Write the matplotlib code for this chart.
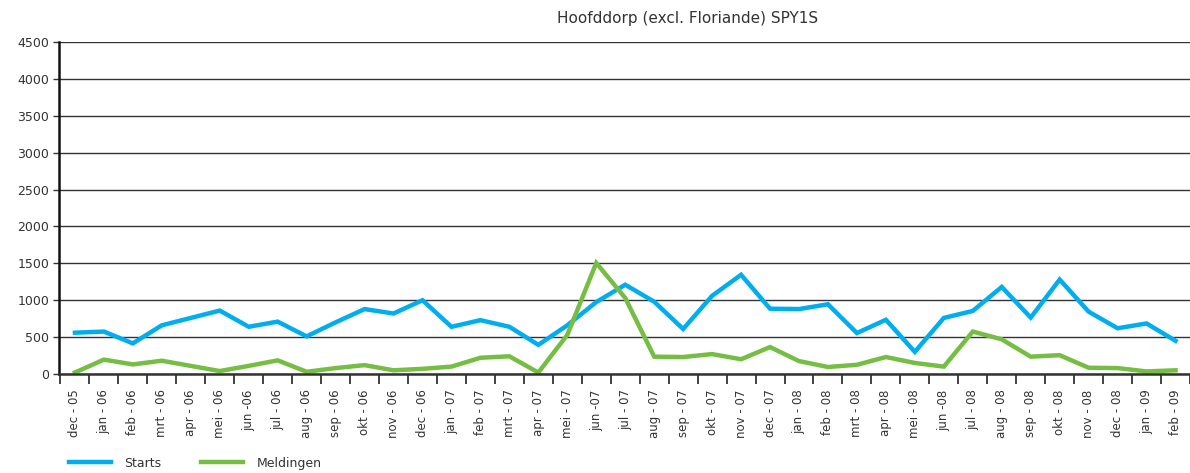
import matplotlib
matplotlib.use("Agg")
import matplotlib.pyplot as plt
from matplotlib.ticker import FixedLocator

# months shown on the x axis
months = ["dec - 05", "jan - 06", "feb - 06", "mrt - 06", "apr - 06", "mei - 06",
          "jun -06", "jul - 06", "aug - 06", "sep - 06", "okt - 06", "nov - 06",
          "dec - 06", "jan - 07", "feb - 07", "mrt - 07", "apr - 07", "mei - 07",
          "jun -07", "jul - 07", "aug - 07", "sep - 07", "okt - 07", "nov - 07",
          "dec - 07", "jan - 08", "feb - 08", "mrt - 08", "apr - 08", "mei - 08",
          "jun -08", "jul - 08", "aug - 08", "sep - 08", "okt - 08", "nov - 08",
          "dec - 08", "jan - 09", "feb - 09"]

starts = [560, 575, 415, 660, 760, 860, 640, 710, 510, 700, 880, 820,
          1000, 640, 730, 640, 395, 660, 975, 1210, 980, 610, 1060, 1345,
          885, 880, 945, 555, 735, 300, 760, 855, 1180, 765, 1280, 845,
          620, 685, 450]

meldingen = [20, 195, 130, 180, 110, 40, 110, 185, 30, 80, 120, 50,
             70, 100, 220, 240, 20, 530, 1505, 1030, 235, 230, 270, 200,
             365, 175, 95, 125, 230, 150, 100, 575, 470, 235, 255, 85,
             80, 35, 50]

blue = "#00AEEF"
green = "#76BE43"

fig = plt.figure(figsize=(11.9, 4.73), dpi=100)
ax = fig.add_axes([59 / 1190, 1 - 374 / 473, 1 - 59 / 1190, (374 - 42) / 473])

x = list(range(len(months)))
ax.plot(x, starts, color=blue, lw=3.2, label="Starts", solid_joinstyle="miter")
ax.plot(x, meldingen, color=green, lw=3.2, label="Meldingen", solid_joinstyle="miter")

ax.set_xlim(-0.55, len(months) - 0.5)
ax.set_ylim(0, 4500)
ax.set_yticks(range(0, 4501, 500))
ax.yaxis.grid(True, color="#333333", lw=1)
ax.set_axisbelow(True)

# labels at the month centres, tick marks at the boundaries
ax.set_xticks(x)
ax.set_xticklabels(months, rotation=90, fontsize=8.5, color="#333333")
ax.tick_params(axis="x", which="major", length=0, pad=11)
ax.xaxis.set_minor_locator(FixedLocator([i - 0.5 for i in range(len(months) + 1)]))
ax.tick_params(axis="x", which="minor", length=7, width=1.2, color="#222222")
ax.tick_params(axis="y", length=4, width=1, color="#333333", labelsize=9,
               labelcolor="#333333", pad=3)

for side in ["top", "right"]:
    ax.spines[side].set_visible(False)
ax.spines["left"].set_linewidth(1.8)
ax.spines["left"].set_color("#111111")
ax.spines["bottom"].set_linewidth(1.8)
ax.spines["bottom"].set_color("#333333")

fig.text(688 / 1190, 1 - 18 / 473, "Hoofddorp (excl. Floriande) SPY1S",
         ha="center", va="center", fontsize=11, color="#333333")

fig.legend(loc="center left", bbox_to_anchor=(58 / 1190, 1 - 463 / 473),
           ncol=2, frameon=False, fontsize=9, handlelength=3.3,
           columnspacing=3.2, handletextpad=1.1, labelcolor="#333333")

fig.savefig("out.png", dpi=100)
